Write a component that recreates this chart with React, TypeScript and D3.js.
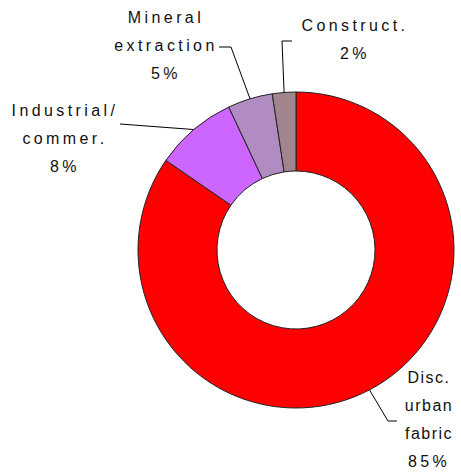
import React from 'react';
import * as d3 from 'd3';

// land take by category (share of total, %)
const categories = ['Disc. urban fabric', 'Industrial/ commer.', 'Mineral extraction', 'Construct.'];
const labelLines = [['Disc.', 'urban', 'fabric'], ['Industrial/', 'commer.'], ['Mineral', 'extraction'], ['Construct.']];
const values = [84.6, 8.4, 4.6, 2.4];
const colors = ['#FF0000', '#CC66FF', '#B08CC2', '#A2848F'];

// label placement (layout only)
const labelLayout = [
  { tx: 429, ty: 383, ls: 1.5, elbow: [388, 421], end: [397, 421] },
  { tx: 65, ty: 116, ls: 3.4, elbow: null, end: [120, 124] },
  { tx: 166, ty: 23, ls: 3.4, elbow: [231, 47], end: [219, 47] },
  { tx: 355, ty: 31, ls: 3.4, elbow: [282, 41], end: [292, 41] },
];

const W = 461;
const H = 474;
const cx = 296;
const cy = 250;
const outerR = 158;
const innerR = 79;
const lineH = 28;

export default function App() {
  const pie = d3.pie<number>().sort(null).value(d => d);
  const arcs = pie(values);
  const arc = d3.arc<d3.PieArcDatum<number>>().innerRadius(innerR).outerRadius(outerR);

  return (
    <svg width={W} height={H} style={{ position: 'absolute', left: 0, top: 0, background: '#fff' }}
      fontFamily="'Liberation Sans', Arial, sans-serif" fontSize={16}>
      <g transform={`translate(${cx},${cy})`}>
        {arcs.map((a, i) => (
          <path key={categories[i]} d={arc(a) || ''} fill={colors[i]} stroke="#222" strokeWidth={1} />
        ))}
      </g>
      {arcs.map((a, i) => {
        const mid = (a.startAngle + a.endAngle) / 2;
        const sx = cx + outerR * Math.sin(mid);
        const sy = cy - outerR * Math.cos(mid);
        const L = labelLayout[i];
        const pts = [[sx, sy], ...(L.elbow ? [L.elbow] : []), L.end];
        const lines = [...labelLines[i], `${Math.round(values[i])}%`];
        return (
          <g key={'lbl' + i}>
            <polyline points={pts.map(p => p.join(',')).join(' ')} fill="none" stroke="#000" strokeWidth={1} />
            {lines.map((t, j) => (
              <text key={j} x={L.tx} y={L.ty + j * lineH} textAnchor="middle" fill="#111"
                letterSpacing={j === lines.length - 1 ? 3.4 : L.ls}>{t}</text>
            ))}
          </g>
        );
      })}
    </svg>
  );
}
